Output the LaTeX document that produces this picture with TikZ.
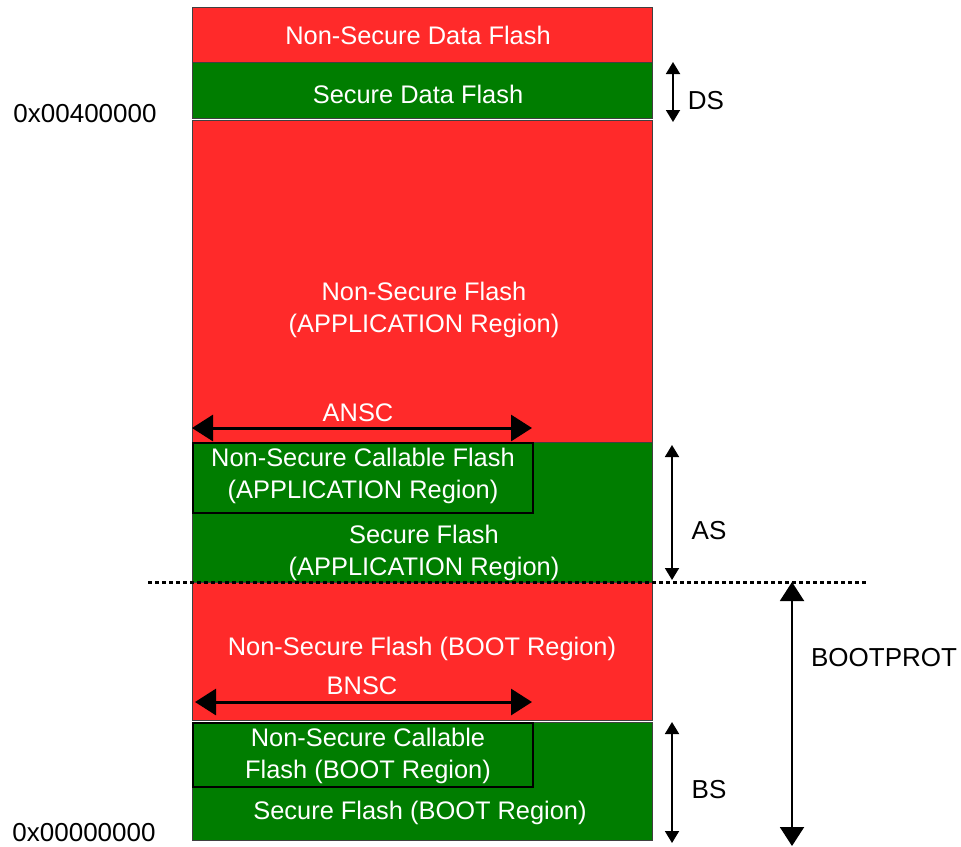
\documentclass[tikz,border=0pt]{standalone}
\usepackage{fontspec}
\setmainfont{Liberation Sans}
\usepackage{tikz}
\usetikzlibrary{arrows.meta}
\definecolor{nsred}{RGB}{255,42,42}
\definecolor{sgreen}{RGB}{0,125,0}

\begin{document}
\begin{tikzpicture}[x=0.5pt,y=-0.5pt,
  blk/.style={draw=black!75,line width=0.6pt,anchor=north west,inner sep=0pt,minimum width=230pt},
  nscblk/.style={blk,draw=black,line width=1pt,minimum width=170pt},
  txt/.style={text=white,align=center,font=\fontsize{12.7}{16}\selectfont},
  lbl/.style={text=black,font=\fontsize{13}{16}\selectfont},
  dimarr/.style={line width=0.9pt,{Triangle[length=6pt,width=7pt]}-{Triangle[length=6pt,width=7pt]}},
  nscarr/.style={line width=1.5pt,{Triangle[length=10.5pt,width=13pt]}-{Triangle[length=10.5pt,width=13pt]}}]
  \useasboundingbox (0,0) rectangle (961,846);
  % data flash
  \node[blk,fill=nsred,minimum height=27.5pt] (nsdata) at (192,7) {};
  \node[blk,fill=sgreen,minimum height=28pt] (sdata) at (192,62) {};
  \node[txt] (nsdata-t) at (418,35) {Non-Secure Data Flash};
  \node[txt] (sdata-t) at (418,94) {Secure Data Flash};
  % application region
  \node[blk,fill=nsred,minimum height=161pt] (nsapp) at (192,120) {};
  \node[blk,fill=sgreen,minimum height=70pt] (sapp) at (192,442) {};
  \node[nscblk,fill=sgreen,minimum height=35pt] (nscapp) at (192,442) {};
  \node[txt] (nsapp-t) at (424,310) {Non-Secure Flash\\(APPLICATION Region)};
  \node[txt] (nscapp-t) at (363,476) {Non-Secure Callable Flash\\(APPLICATION Region)};
  \node[txt] (sapp-t) at (424,553) {Secure Flash\\(APPLICATION Region)};
  % boot region
  \node[blk,fill=nsred,minimum height=69pt] (nsboot) at (192,582) {};
  \node[blk,fill=sgreen,minimum height=59pt] (sboot) at (192,722) {};
  \node[nscblk,fill=sgreen,minimum height=32pt] (nscboot) at (192,722) {};
  \node[txt] (nsboot-t) at (422,649) {Non-Secure Flash (BOOT Region)};
  \node[txt] (nscboot-t) at (368,756) {Non-Secure Callable\\Flash (BOOT Region)};
  \node[txt] (sboot-t) at (420,813) {Secure Flash (BOOT Region)};
  % NSC widths
  \coordinate (ansc-l) at (192,428); \coordinate (ansc-r) at (532,428);
  \draw[nscarr] (ansc-l) -- (ansc-r);
  \node[txt] (ansc) at (358,413) {ANSC};
  \coordinate (bnsc-l) at (195,702); \coordinate (bnsc-r) at (532,702);
  \draw[nscarr] (bnsc-l) -- (bnsc-r);
  \node[txt] (bnsc) at (362,686) {BNSC};
  % boot / application boundary
  \coordinate (bp-l) at (148,582); \coordinate (bp-r) at (868,582);
  \draw[line width=1.5pt,dash pattern=on 2pt off 1.5pt] (bp-l) -- (bp-r);
  % sizes on the right
  \coordinate (ds-t) at (673,62); \coordinate (ds-b) at (673,122);
  \draw[dimarr] (ds-t) -- (ds-b);
  \node[lbl] (ds) at (706,101) {DS};
  \coordinate (as-t) at (672,445); \coordinate (as-b) at (672,580);
  \draw[dimarr] (as-t) -- (as-b);
  \node[lbl] (as) at (709,531) {AS};
  \coordinate (bs-t) at (672,722); \coordinate (bs-b) at (672,843);
  \draw[dimarr] (bs-t) -- (bs-b);
  \node[lbl] (bs) at (709,790) {BS};
  \coordinate (bootp-t) at (792,582); \coordinate (bootp-b) at (792,846);
  \draw[line width=1pt,{Triangle[length=9.5pt,width=12pt]}-{Triangle[length=9.5pt,width=12pt]}] (bootp-t) -- (bootp-b);
  \node[lbl] (bootprot) at (884,658) {BOOTPROT};
  % addresses
  \node[lbl] (addr-top) at (85,114) {0x00400000};
  \node[lbl] (addr-bot) at (84,833) {0x00000000};
\end{tikzpicture}
\end{document}
